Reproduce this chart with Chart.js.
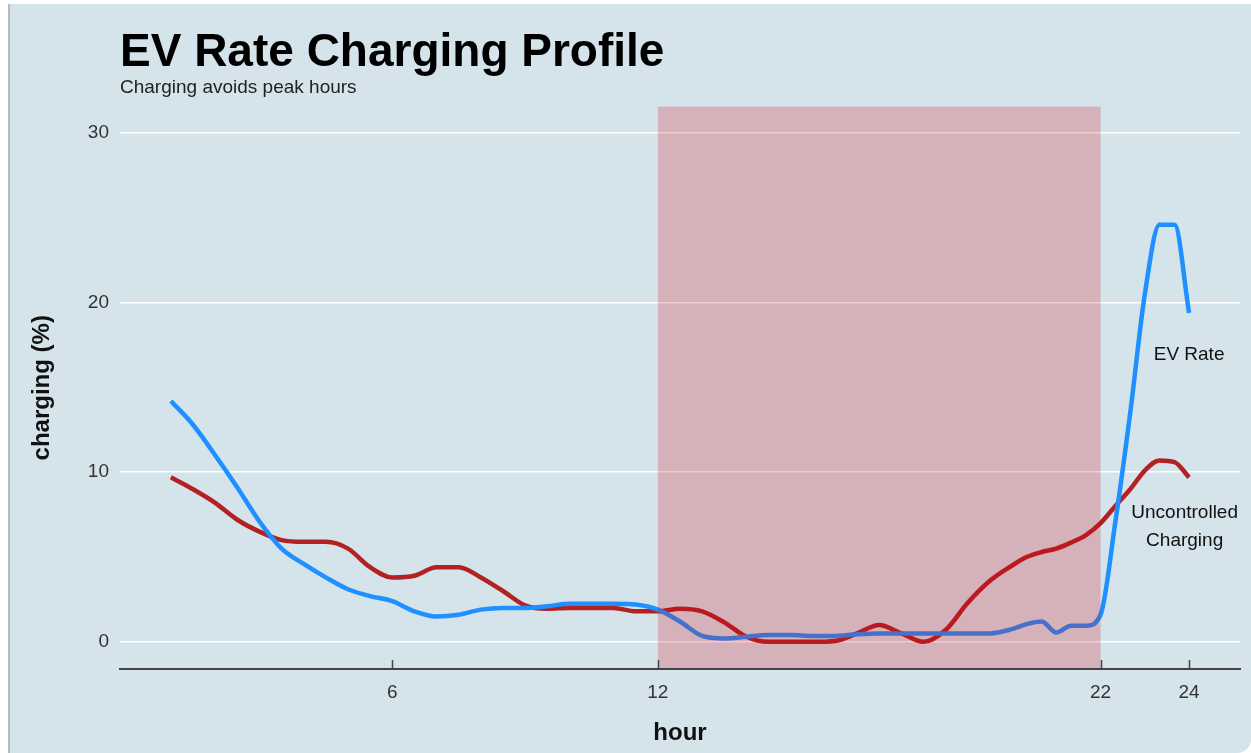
<!DOCTYPE html>
<html>
<head>
<meta charset="utf-8">
<script src="https://cdn.jsdelivr.net/npm/chart.js@4"></script>
<style>
  body { margin: 0; background: #fff; width: 1251px; height: 753px; overflow: hidden; position: relative; }
  #panel { position: absolute; left: 8px; top: 4px; right: 0; bottom: 0; background: #d5e3ea;
           border-left: 2px solid #b9bcbe; border-bottom-right-radius: 14px; }
  #myChart { position: absolute; left: 0; top: 0; }
</style>
</head>
<body>
<div id="panel"></div>
<canvas id="myChart" width="1251" height="753"></canvas>
<script>
// hour of day, half hours then 20-minute steps at the end
const hours = [1, 1.5, 2, 2.5, 3, 3.5, 4, 4.5, 5, 5.5, 6, 6.5, 7, 7.5, 8, 8.5, 9, 9.5, 10, 10.5,
  11, 11.5, 12, 12.5, 13, 13.5, 14, 14.5, 15, 15.5, 16, 16.5, 17, 17.5, 18, 18.5, 19, 19.5,
  20, 20.33, 20.67, 21, 21.33, 21.67, 22, 22.33, 22.67, 23, 23.33, 23.67, 24];

const evRate = [14.2, 12.8, 11.0, 9.1, 7.1, 5.5, 4.6, 3.8, 3.1, 2.7, 2.4, 1.8, 1.5, 1.6, 1.9, 2.0,
  2.0, 2.1, 2.25, 2.25, 2.25, 2.2, 1.9, 1.2, 0.35, 0.2, 0.3, 0.4, 0.4, 0.35, 0.35, 0.45, 0.5, 0.5,
  0.5, 0.5, 0.5, 0.5, 0.75, 1.05, 1.2, 0.55, 0.95, 0.95, 1.6, 7.0, 13.5, 20.5, 24.6, 24.6, 19.4];

const uncontrolled = [9.7, 9.0, 8.2, 7.2, 6.5, 6.0, 5.9, 5.9, 5.5, 4.4, 3.8, 3.9, 4.4, 4.4, 3.8, 3.0,
  2.15, 1.95, 2.0, 2.0, 2.0, 1.8, 1.8, 1.95, 1.8, 1.15, 0.3, 0.0, 0.0, 0.0, 0.05, 0.5, 1.0, 0.5,
  0.0, 0.7, 2.3, 3.6, 4.5, 5.0, 5.3, 5.5, 5.85, 6.3, 7.0, 8.0, 9.0, 10.1, 10.7, 10.6, 9.7];

const xTicks = [6, 12, 22, 24];
const yTicks = [0, 10, 20, 30];
const peakHours = [12, 22];

const FONT = "'Liberation Sans', Arial, sans-serif";

const toPoints = (vals) => hours.map((h, i) => ({ x: h, y: vals[i] }));

// peak band, inward tick marks and the line labels
const extras = {
  id: "extras",
  afterDatasetsDraw(chart) {
    const { ctx, chartArea, scales } = chart;
    const x = scales.x, y = scales.y;
    ctx.save();
    const x0 = x.getPixelForValue(peakHours[0]);
    const x1 = x.getPixelForValue(peakHours[1]);
    ctx.fillStyle = "rgba(215, 0, 12, 0.22)";
    ctx.fillRect(x0, chartArea.top, x1 - x0, chartArea.bottom - chartArea.top - 1);

    ctx.strokeStyle = "#444";
    ctx.lineWidth = 1.5;
    xTicks.forEach((t) => {
      const px = Math.round(x.getPixelForValue(t)) + 0.5;
      ctx.beginPath();
      ctx.moveTo(px, chartArea.bottom);
      ctx.lineTo(px, chartArea.bottom - 9);
      ctx.stroke();
    });

    ctx.fillStyle = "#111";
    ctx.font = "19px " + FONT;
    ctx.textAlign = "center";
    ctx.textBaseline = "middle";
    ctx.fillText("EV Rate", x.getPixelForValue(24), y.getPixelForValue(16.9));
    const cy = y.getPixelForValue(6.8);
    ctx.fillText("Uncontrolled", x.getPixelForValue(23.9), cy - 14);
    ctx.fillText("Charging", x.getPixelForValue(23.9), cy + 14);
    ctx.restore();
  },
};

const data = {
  datasets: [
    {
      label: "EV Rate",
      data: toPoints(evRate),
      borderColor: "#1e90ff",
      borderWidth: 4.5,
      pointRadius: 0,
      cubicInterpolationMode: "monotone",
    },
    {
      label: "Uncontrolled Charging",
      data: toPoints(uncontrolled),
      borderColor: "#b22222",
      borderWidth: 4.5,
      pointRadius: 0,
      cubicInterpolationMode: "monotone",
    },
  ],
};

const config = {
  type: "line",
  data: data,
  plugins: [extras],
  options: {
    responsive: false,
    animation: false,
    layout: { padding: { left: 28, right: 11, top: 0, bottom: 0 } },
    plugins: {
      legend: { display: false },
      tooltip: { enabled: false },
      title: {
        display: true,
        text: "EV Rate Charging Profile",
        align: "start",
        fullSize: false,
        color: "#000",
        font: { family: FONT, size: 46, weight: "bold", lineHeight: 1.1 },
        padding: { top: 28, bottom: 0 },
      },
      subtitle: {
        display: true,
        text: "Charging avoids peak hours",
        align: "start",
        fullSize: false,
        color: "#222",
        font: { family: FONT, size: 19, lineHeight: 1.0 },
        padding: { top: 0, bottom: 9 },
      },
    },
    scales: {
      x: {
        type: "linear",
        min: -0.15,
        max: 25.15,
        afterBuildTicks: (s) => { s.ticks = xTicks.map((v) => ({ value: v })); },
        afterFit: (s) => { s.height = 84; },
        grid: { display: false, drawTicks: false },
        border: { display: true, color: "#444", width: 2 },
        ticks: { color: "#333", padding: 12, font: { family: FONT, size: 19 } },
        title: {
          display: true,
          text: "hour",
          color: "#111",
          font: { family: FONT, size: 24, weight: "bold", lineHeight: 1.2 },
          padding: { top: 0, bottom: 5 },
        },
      },
      y: {
        min: -1.6,
        max: 31.56,
        afterBuildTicks: (s) => { s.ticks = yTicks.map((v) => ({ value: v })); },
        afterFit: (s) => { s.width = 92; },
        grid: { color: "#ffffff", lineWidth: 1.6, drawTicks: false },
        border: { display: false },
        ticks: { color: "#333", padding: 11, font: { family: FONT, size: 19 } },
        title: {
          display: true,
          text: "charging (%)",
          color: "#111",
          font: { family: FONT, size: 24, weight: "bold", lineHeight: 1.2 },
          padding: { top: 0, bottom: 0 },
        },
      },
    },
  },
};

const myChart = new Chart(document.getElementById("myChart"), config);
</script>
</body>
</html>
